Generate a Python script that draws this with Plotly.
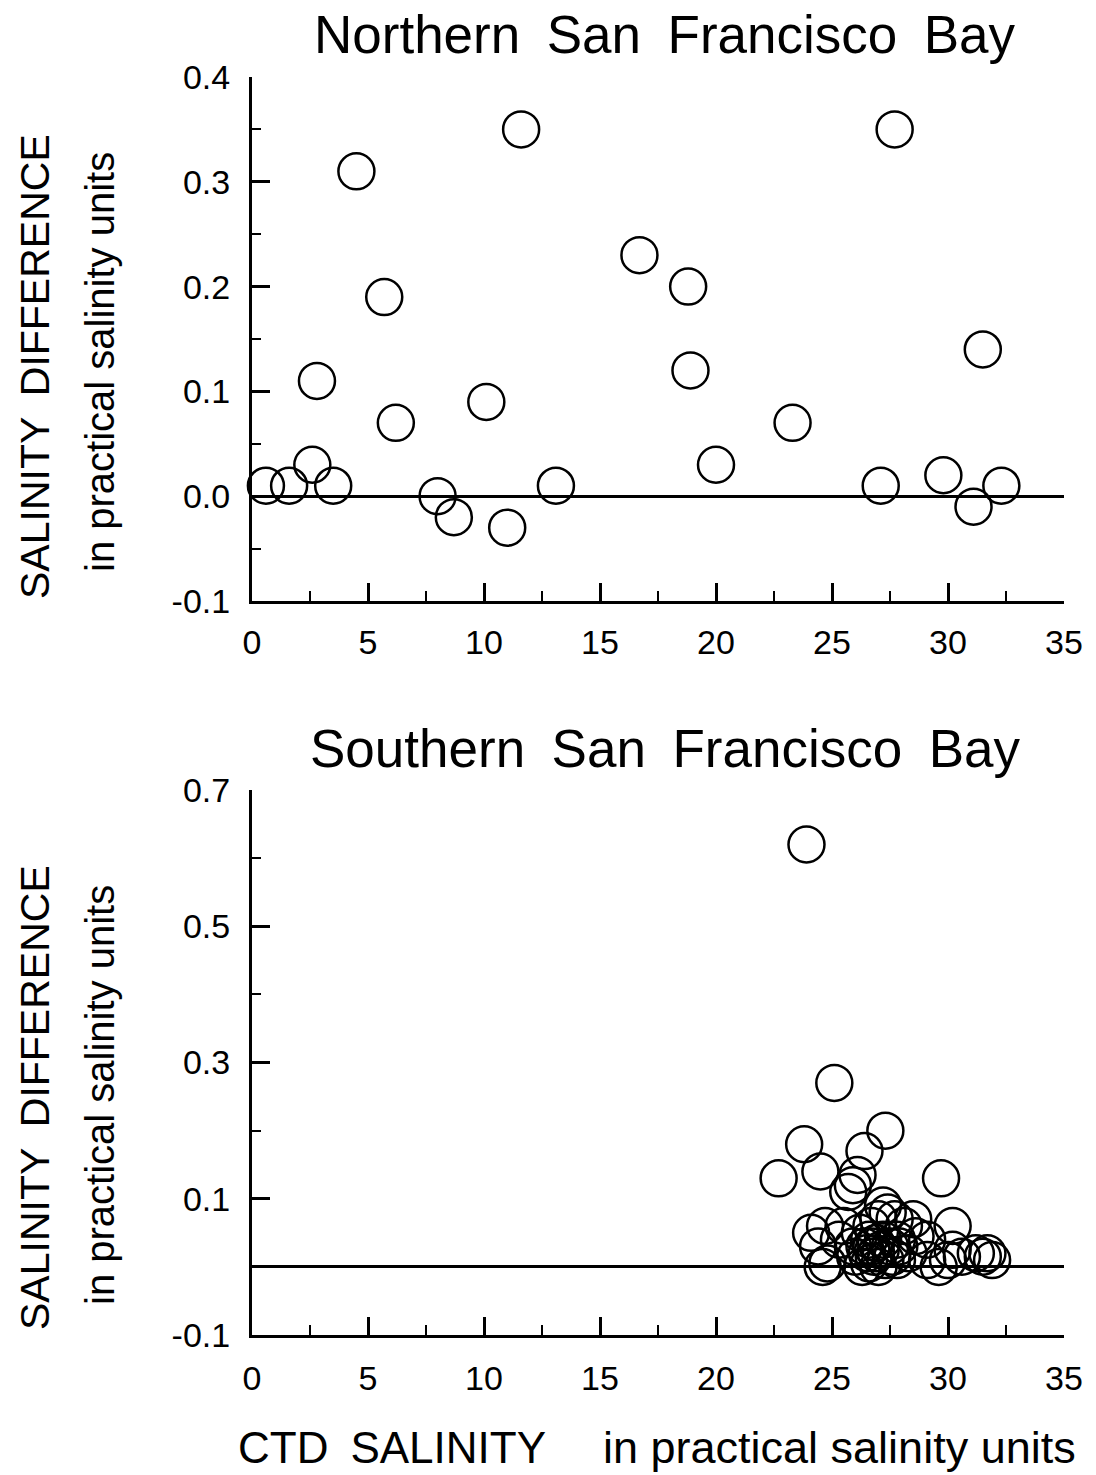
import plotly.graph_objects as go

# ---------------- data ----------------
north_ctd = [0.6, 1.6, 2.6, 2.8, 3.5, 4.5, 5.7, 6.2, 8.0, 8.7, 10.1, 11.0, 11.6, 13.1,
             16.7, 18.8, 18.9, 20.0, 23.3, 27.1, 27.7, 29.8, 31.1, 31.5, 32.3]
north_diff = [0.01, 0.01, 0.03, 0.11, 0.01, 0.31, 0.19, 0.07, 0.00, -0.02, 0.09, -0.03, 0.35, 0.01,
              0.23, 0.20, 0.12, 0.03, 0.07, 0.01, 0.35, 0.02, -0.01, 0.14, 0.01]

south_ctd = [23.9, 25.1, 27.3, 23.8, 26.4, 22.7, 24.5, 29.7, 26.1, 25.9, 25.7,
             27.2, 27.4, 27.0, 27.7, 28.5, 30.2, 24.1, 24.7, 25.5, 26.2, 26.7, 28.1, 28.6, 29.1,
             24.4, 25.3, 25.9, 26.4, 26.6, 26.9, 27.1, 27.5, 27.8, 26.5, 26.8, 27.3, 27.6, 28.3,
             24.6, 24.8, 26.3, 26.6, 27.0, 26.9, 29.6, 30.2, 30.6, 31.2, 31.5, 31.7, 31.9,
             30.0, 29.1, 27.8, 26.7, 27.2, 26.0, 27.9]
south_diff = [0.62, 0.27, 0.20, 0.18, 0.17, 0.13, 0.14, 0.13, 0.135, 0.12, 0.11,
              0.09, 0.08, 0.07, 0.07, 0.07, 0.06, 0.05, 0.06, 0.06, 0.05, 0.06, 0.06, 0.045, 0.04,
              0.03, 0.04, 0.03, 0.03, 0.04, 0.035, 0.025, 0.03, 0.04, 0.02, 0.015, 0.01, 0.015, 0.02,
              0.00, 0.005, 0.00, 0.005, 0.00, 0.02, 0.00, 0.025, 0.015, 0.02, 0.015, 0.02, 0.01,
              0.01, 0.01, 0.01, 0.03, 0.04, 0.015, 0.03]

x_tickvals = [0, 5, 10, 15, 20, 25, 30, 35]
x_ticktext = ["0", "5", "10", "15", "20", "25", "30", "35"]
north_tickvals = [-0.1, 0.0, 0.1, 0.2, 0.3, 0.4]
north_ticktext = ["-0.1", "0.0", "0.1", "0.2", "0.3", "0.4"]
south_tickvals = [-0.1, 0.1, 0.3, 0.5, 0.7]
south_ticktext = ["-0.1", "0.1", "0.3", "0.5", "0.7"]

title_north = "Northern\u2002San\u2002Francisco\u2002Bay"
title_south = "Southern\u2002San\u2002Francisco\u2002Bay"
ytitle_a = "SALINITY\u2002DIFFERENCE"
ytitle_b = "in practical salinity units"
xtitle_a = "CTD\u2002SALINITY"
xtitle_b = "in practical salinity units"

# ---------------- figure ----------------
W, H = 1096, 1475
FONT = "Liberation Sans, Arial, Helvetica, sans-serif"

marker = dict(symbol="circle-open", size=36, color="black", line=dict(width=2.5, color="black"))

fig = go.Figure()
fig.add_trace(go.Scatter(x=north_ctd, y=north_diff, mode="markers", marker=marker,
                         xaxis="x", yaxis="y", cliponaxis=False, showlegend=False, hoverinfo="skip"))
fig.add_trace(go.Scatter(x=south_ctd, y=south_diff, mode="markers", marker=marker,
                         xaxis="x2", yaxis="y2", cliponaxis=False, showlegend=False, hoverinfo="skip"))

xdom = [252 / W, 1064 / W]
ydom_top = [1 - 601 / H, 1 - 77 / H]
ydom_bot = [1 - 1335 / H, 1 - 790 / H]

def xaxis_cfg(anchor, standoff):
    return dict(domain=xdom, anchor=anchor, range=[0, 35], showgrid=False, zeroline=False,
                automargin=False,
                showline=True, linecolor="black", linewidth=3,
                tickmode="array", tickvals=x_tickvals, ticktext=x_ticktext,
                ticks="inside", ticklen=18, tickwidth=2.5, tickcolor="black",
                ticklabelstandoff=standoff,
                minor=dict(dtick=2.5, tick0=0, ticks="inside", ticklen=10, tickwidth=2, tickcolor="black"),
                tickfont=dict(family=FONT, size=34, color="black"))

def yaxis_cfg(anchor, dom, rng, tv, tt, mdt):
    return dict(domain=dom, anchor=anchor, range=rng, showgrid=False,
                automargin=False,
                zeroline=True, zerolinecolor="black", zerolinewidth=3,
                showline=True, linecolor="black", linewidth=3,
                tickmode="array", tickvals=tv, ticktext=tt,
                ticks="inside", ticklen=18, tickwidth=2.5, tickcolor="black",
                ticklabelstandoff=12,
                minor=dict(dtick=mdt, tick0=-0.1, ticks="inside", ticklen=9, tickwidth=2, tickcolor="black"),
                tickfont=dict(family=FONT, size=34, color="black"))

fig.update_layout(
    width=W, height=H,
    margin=dict(l=0, r=0, t=0, b=0, pad=0, autoexpand=False),
    paper_bgcolor="white", plot_bgcolor="white",
    font=dict(family=FONT, color="black"),
    xaxis=xaxis_cfg("y", 9),
    yaxis=yaxis_cfg("x", ydom_top, [-0.1, 0.4], north_tickvals, north_ticktext, 0.05),
    xaxis2=xaxis_cfg("y2", 11),
    yaxis2=yaxis_cfg("x2", ydom_bot, [-0.1, 0.7], south_tickvals, south_ticktext, 0.1),
    showlegend=False,
)

def ann(text, x, y, size, angle=0):
    return dict(text=text, x=x / W, y=1 - y / H, xref="paper", yref="paper",
                xanchor="center", yanchor="middle", showarrow=False, textangle=angle,
                font=dict(family=FONT, size=size, color="black"))

fig.update_layout(annotations=[
    ann(title_north, 665, 35, 53),
    ann(title_south, 665, 748, 53),
    ann(ytitle_a, 35, 367, 41, -90),
    ann(ytitle_b, 100, 362, 40, -90),
    ann(ytitle_a, 35, 1098, 41, -90),
    ann(ytitle_b, 100, 1095, 40, -90),
    ann(xtitle_a, 392, 1447, 44),
    ann(xtitle_b, 839, 1447, 45),
])

fig.write_html("out.html", config={"displayModeBar": False},
               post_script="document.body.style.margin='0';")
